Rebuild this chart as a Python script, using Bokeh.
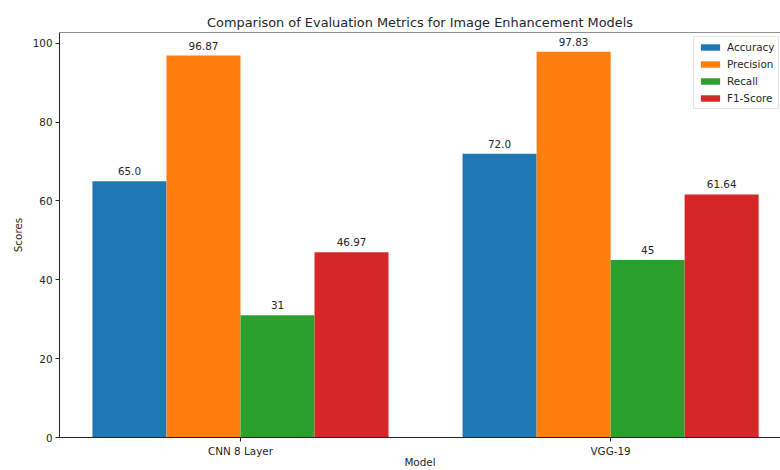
import numpy as np
from bokeh.plotting import figure
from bokeh.models import ColumnDataSource, Range1d, FixedTicker, Span
from bokeh.transform import dodge
from bokeh.embed import file_html
from bokeh.resources import INLINE

# ---- data ----
models = ["CNN 8 Layer", "VGG-19"]
metrics = ["Accuracy", "Precision", "Recall", "F1-Score"]
accuracy = [65.0, 72.0]
precision = [96.87, 97.83]
recall = [31, 45]
f1_score = [46.97, 61.64]
colors = ["#1f77b4", "#ff7f0e", "#2ca02c", "#d62728"]
y_ticks = [0, 20, 40, 60, 80, 100]
title_text = "Comparison of Evaluation Metrics for Image Enhancement Models"

series = [accuracy, precision, recall, f1_score]
x = list(range(len(models)))
bar_w = 0.2
offsets = [(i - (len(metrics) - 1) / 2) * bar_w for i in range(len(metrics))]

FONT = "DejaVu Sans"
TXT = "#262626"

ymax = max(max(s) for s in series) * 1.05

p = figure(width=780, height=470, output_backend="svg", toolbar_location=None,
           x_range=Range1d(-0.489, 1.459), y_range=Range1d(0, ymax),
           title=title_text)
p.min_border_left = 59
p.min_border_right = 0
p.min_border_top = 32
p.min_border_bottom = 33
p.outline_line_color = None
p.background_fill_color = "white"
p.border_fill_color = "white"

p.title.text_font = FONT
p.title.text_font_size = "12.9px"
p.title.text_font_style = "normal"
p.title.text_color = TXT
p.title.align = "center"
p.title.offset = 5
p.title.standoff = 6

for name, vals, off, col in zip(metrics, series, offsets, colors):
    src = ColumnDataSource(dict(x=x, y=vals, lab=[str(v) for v in vals]))
    p.vbar(x=dodge("x", off), top="y", width=bar_w, source=src,
           fill_color=col, line_color=None, legend_label=name)
    p.text(x=dodge("x", off), y="y", text="lab", source=src,
           text_align="center", text_baseline="bottom", y_offset=-6,
           text_font_size="10.4px", text_color=TXT, text_font={"value": FONT})

p.add_layout(Span(location=ymax, dimension="width", line_color="#222222", line_width=1))

p.xgrid.visible = False
p.ygrid.visible = False

p.xaxis.ticker = FixedTicker(ticks=x)
p.xaxis.major_label_overrides = {i: m for i, m in zip(x, models)}
p.yaxis.ticker = FixedTicker(ticks=y_ticks)
p.xaxis.axis_label = "Model"
p.yaxis.axis_label = "Scores"

for ax in (p.xaxis, p.yaxis):
    ax.axis_line_color = "#222222"
    ax.axis_line_width = 1
    ax.major_tick_line_color = "#222222"
    ax.major_tick_in = 0
    ax.major_tick_out = 4
    ax.minor_tick_line_color = None
    ax.major_label_text_font = FONT
    ax.major_label_text_font_size = "10.4px"
    ax.major_label_text_color = TXT
    ax.major_label_standoff = 3
    ax.axis_label_text_font = FONT
    ax.axis_label_text_font_size = "10.4px"
    ax.axis_label_text_font_style = "normal"
    ax.axis_label_text_color = TXT
p.xaxis.axis_label_standoff = -4
p.yaxis.axis_label_standoff = 6

lg = p.legend[0]
lg.location = (634, 328)
lg.label_text_font = FONT
lg.label_text_font_size = "10.4px"
lg.label_text_color = TXT
lg.glyph_width = 24
lg.glyph_height = 8
lg.label_height = 8
lg.spacing = 5
lg.padding = 4
lg.margin = 0
lg.label_standoff = 5
lg.border_line_color = "#cccccc"
lg.border_line_width = 1
lg.background_fill_alpha = 0.8

open("out.html", "w").write(file_html(p, INLINE))
